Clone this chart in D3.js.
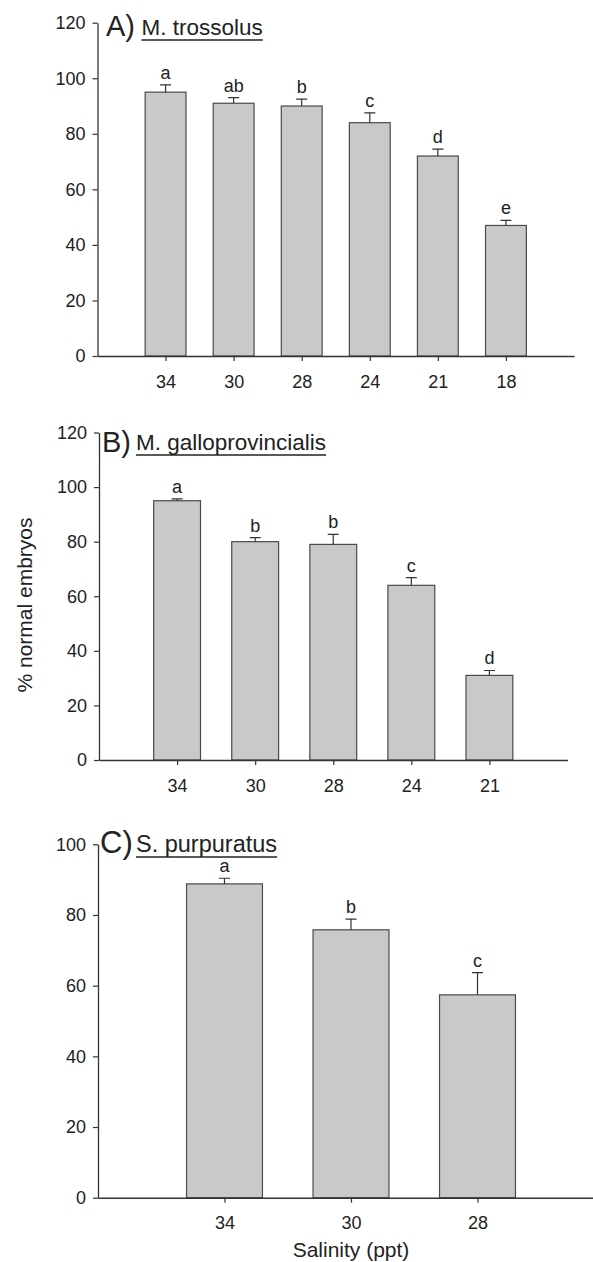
<!DOCTYPE html>
<html>
<head>
<meta charset="utf-8">
<script src="https://cdn.jsdelivr.net/npm/d3@7"></script>
<style>
  body { margin: 0; background: #fff; }
  text { font-family: "Liberation Sans", Arial, sans-serif; fill: #222; }
  .axis path, .axis line { stroke: #333; }
  .axis text { font-size: 18px; fill: #222; }
</style>
</head>
<body>
<svg id="chart" width="593" height="1262"></svg>
<script>
// Panel A - M. trossolus
var salinityA = ["34", "30", "28", "24", "21", "18"];
var meanA = [95, 91, 90, 84, 72, 47];
var errA = [2.6, 2, 2.5, 3.5, 2.5, 1.8];
var letterA = ["a", "ab", "b", "c", "d", "e"];
var ticksA = [0, 20, 40, 60, 80, 100, 120];

// Panel B - M. galloprovincialis
var salinityB = ["34", "30", "28", "24", "21"];
var meanB = [95, 80, 79, 64, 31];
var errB = [0.7, 1.5, 3.7, 2.8, 1.8];
var letterB = ["a", "b", "b", "c", "d"];
var ticksB = [0, 20, 40, 60, 80, 100, 120];

// Panel C - S. purpuratus
var salinityC = ["34", "30", "28"];
var meanC = [88.8, 75.8, 57.4];
var errC = [1.6, 3.0, 6.3];
var letterC = ["a", "b", "c"];
var ticksC = [0, 20, 40, 60, 80, 100];

var svg = d3.select("#chart");

function drawPanel(p) {
  var rows = p.cats.map(function (c, i) {
    return { cat: c, mean: p.means[i], err: p.errs[i], letter: p.letters[i] };
  });

  var x = d3.scalePoint()
    .domain(p.cats)
    .range([p.left, p.right])
    .padding(1);

  var y = d3.scaleLinear()
    .domain([0, d3.max(p.ticks)])
    .range([p.bottom, p.top]);

  var barW = x.step() * 0.6;
  var g = svg.append("g");

  // y axis
  var yAxis = g.append("g")
    .attr("class", "axis")
    .attr("transform", "translate(" + p.left + ",0)")
    .call(d3.axisLeft(y).tickValues(p.ticks).tickSize(5).tickSizeOuter(0).tickPadding(7));
  yAxis.select(".domain").attr("stroke-width", 1.3);
  yAxis.selectAll(".tick line").attr("stroke-width", 1.2);

  // bars
  g.selectAll(".bar")
    .data(rows)
    .enter().append("rect")
    .attr("class", "bar")
    .attr("x", function (d) { return x(d.cat) - barW / 2; })
    .attr("y", function (d) { return y(d.mean); })
    .attr("width", barW)
    .attr("height", function (d) { return y(0) - y(d.mean); })
    .attr("fill", "#c8c9cb")
    .attr("stroke", "#4a4a4a")
    .attr("stroke-width", 1.2);

  // error bars (upper only)
  g.selectAll(".err")
    .data(rows)
    .enter().append("path")
    .attr("class", "err")
    .attr("d", function (d) {
      var cx = x(d.cat), t = y(d.mean + d.err);
      return "M" + cx + "," + y(d.mean) + "V" + t + "M" + (cx - 5.5) + "," + t + "H" + (cx + 5.5);
    })
    .attr("fill", "none")
    .attr("stroke", "#333")
    .attr("stroke-width", 1.2);

  // significance letters
  g.selectAll(".letter")
    .data(rows)
    .enter().append("text")
    .attr("class", "letter")
    .attr("x", function (d) { return x(d.cat); })
    .attr("y", function (d) { return y(d.mean + d.err) - 6; })
    .attr("text-anchor", "middle")
    .style("font-size", "18px")
    .text(function (d) { return d.letter; });

  // x axis
  var xAxis = g.append("g")
    .attr("class", "axis")
    .attr("transform", "translate(0," + p.bottom + ")")
    .call(d3.axisBottom(x).tickSize(5).tickSizeOuter(0).tickPadding(14));
  xAxis.select(".domain").attr("stroke-width", 1.6);
  xAxis.selectAll(".tick line").attr("stroke-width", 1.2);

  // panel title
  g.append("text")
    .attr("x", p.tagX)
    .attr("y", p.tagY)
    .style("font-size", p.tagSize + "px")
    .text(p.tag);

  var sp = g.append("text")
    .attr("x", p.spX)
    .attr("y", p.spY)
    .style("font-size", p.spSize + "px")
    .text(p.species);

  var len = sp.node().getComputedTextLength();
  g.append("line")
    .attr("x1", p.spX)
    .attr("x2", p.spX + len)
    .attr("y1", p.spY + 5)
    .attr("y2", p.spY + 5)
    .attr("stroke", "#222")
    .attr("stroke-width", 1.6);
}

drawPanel({
  cats: salinityA, means: meanA, errs: errA, letters: letterA, ticks: ticksA,
  left: 97.5, right: 574, top: 22.7, bottom: 356,
  tag: "A)", tagX: 106, tagY: 36, tagSize: 29,
  species: "M. trossolus", spX: 141.5, spY: 35, spSize: 22.5
});

drawPanel({
  cats: salinityB, means: meanB, errs: errB, letters: letterB, ticks: ticksB,
  left: 99, right: 567.5, top: 432.5, bottom: 760,
  tag: "B)", tagX: 102, tagY: 451.5, tagSize: 29,
  species: "M. galloprovincialis", spX: 136, spY: 450, spSize: 22.5
});

drawPanel({
  cats: salinityC, means: meanC, errs: errC, letters: letterC, ticks: ticksC,
  left: 98, right: 604, top: 844.3, bottom: 1197.7,
  tag: "C)", tagX: 100, tagY: 853, tagSize: 31,
  species: "S. purpuratus", spX: 136, spY: 852, spSize: 23.5
});

// shared axis titles
svg.append("text")
  .attr("transform", "translate(32,605)rotate(-90)")
  .attr("text-anchor", "middle")
  .style("font-size", "21px")
  .text("% normal embryos");

svg.append("text")
  .attr("x", 351)
  .attr("y", 1257)
  .attr("text-anchor", "middle")
  .style("font-size", "21px")
  .text("Salinity (ppt)");
</script>
</body>
</html>
